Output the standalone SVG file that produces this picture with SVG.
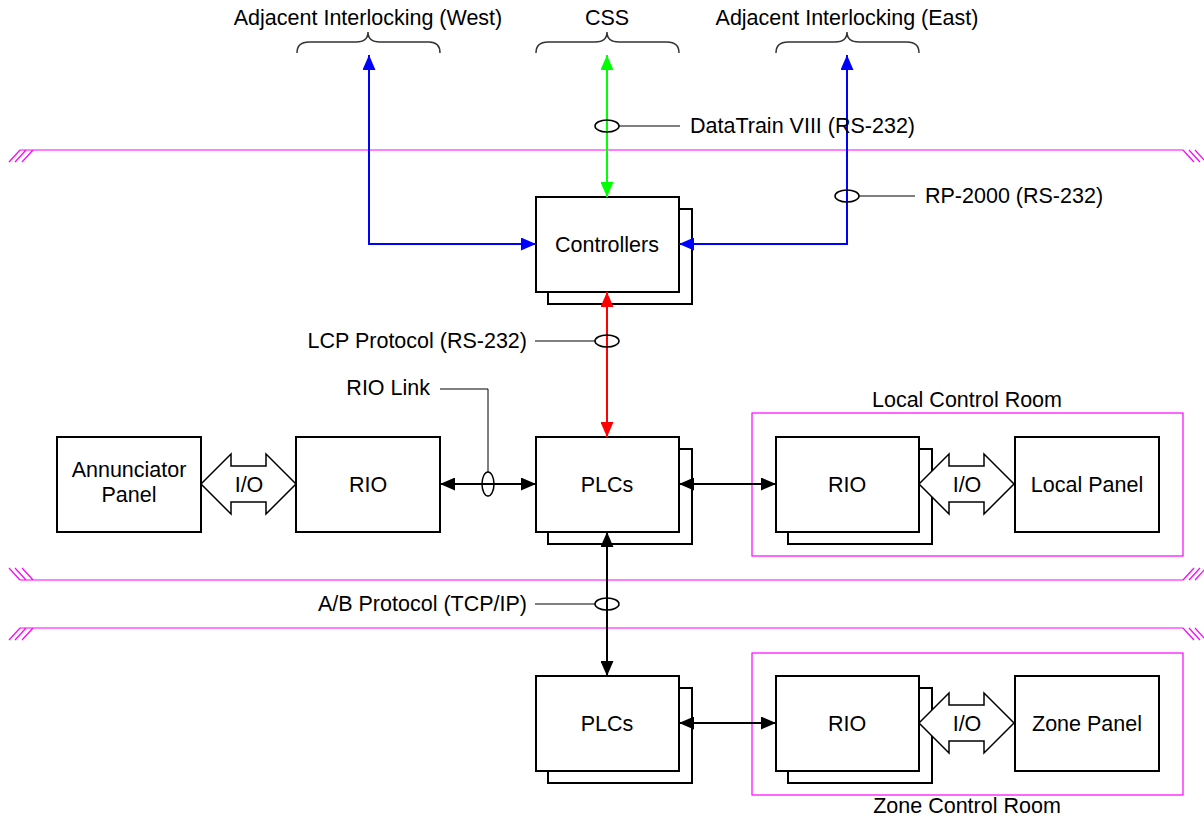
<svg xmlns="http://www.w3.org/2000/svg" width="1204" height="820" viewBox="0 0 1204 820">
<defs>
<style>
text{font-family:"Liberation Sans",Arial,sans-serif;font-size:21.5px;fill:#000}
.box{fill:#fff;stroke:#000;stroke-width:2}
.mag{fill:none;stroke:#FF00FF;stroke-width:1.2}
.lead{fill:none;stroke:#000;stroke-width:1}
.ell{fill:none;stroke:#000;stroke-width:1.5}
.brace{fill:none;stroke:#333;stroke-width:1.5}
.io{fill:#fff;stroke:#000;stroke-width:1.5}
.c{text-anchor:middle}
.e{text-anchor:end}
</style>
<marker id="ak" viewBox="0 0 15 13" refX="15" refY="6.5" markerWidth="15" markerHeight="13" markerUnits="userSpaceOnUse" orient="auto-start-reverse"><path d="M0,0L15,6.5L0,13z" fill="#000"/></marker>
<marker id="ab" viewBox="0 0 15 13" refX="15" refY="6.5" markerWidth="15" markerHeight="13" markerUnits="userSpaceOnUse" orient="auto-start-reverse"><path d="M0,0L15,6.5L0,13z" fill="#0000FF"/></marker>
<marker id="ag" viewBox="0 0 15 13" refX="15" refY="6.5" markerWidth="15" markerHeight="13" markerUnits="userSpaceOnUse" orient="auto-start-reverse"><path d="M0,0L15,6.5L0,13z" fill="#00FF00"/></marker>
<marker id="ar" viewBox="0 0 15 13" refX="15" refY="6.5" markerWidth="15" markerHeight="13" markerUnits="userSpaceOnUse" orient="auto-start-reverse"><path d="M0,0L15,6.5L0,13z" fill="#FF0000"/></marker>
</defs>
<rect width="1204" height="820" fill="#fff"/>

<g id="boundaries">
<path class="mag" d="M20,150H1183M20,150L9,162M26,150L15,162M33,150L22,162M1183,150L1194,162M1189,150L1200,162M1195,150L1206,162"/>
<path class="mag" d="M20,580H1183M20,580L9,568M26,580L15,568M33,580L22,568M1183,580L1194,568M1189,580L1200,568M1195,580L1206,568"/>
<path class="mag" d="M20,628H1183M20,628L9,640M26,628L15,640M33,628L22,640M1183,628L1194,640M1189,628L1200,640M1195,628L1206,640"/>
</g>

<g id="external-labels">
<text class="c" x="368" y="25">Adjacent Interlocking (West)</text>
<path class="brace" d="M297,53Q297,42 309,42L356,42Q368,42 368,32Q368,42 380,42L429,42Q440,42 440,53"/>
<text class="c" x="607" y="25">CSS</text>
<path class="brace" d="M536,53Q536,42 548,42L595,42Q607,42 607,32Q607,42 619,42L667,42Q679,42 679,53"/>
<text class="c" x="847" y="25">Adjacent Interlocking (East)</text>
<path class="brace" d="M776,53Q776,42 788,42L835,42Q847,42 847,32Q847,42 859,42L907,42Q919,42 919,53"/>
</g>

<g id="local-control-room">
<rect class="mag" x="752" y="413" width="431" height="143"/>
<text class="c" x="967" y="407">Local Control Room</text>
</g>
<g id="zone-control-room">
<rect class="mag" x="752" y="653" width="431" height="142"/>
<text class="c" x="967" y="813">Zone Control Room</text>
</g>

<g id="controllers">
<rect class="box" x="548" y="209" width="144" height="95"/>
<rect class="box" x="536" y="197" width="143" height="95"/>
<text class="c" x="607" y="252">Controllers</text>
</g>

<g id="annunciator-panel">
<rect class="box" x="57" y="437" width="144" height="95"/>
<text class="c" x="129" y="477">Annunciator</text>
<text class="c" x="129" y="502">Panel</text>
</g>

<g id="rio-main">
<rect class="box" x="296" y="437" width="144" height="95"/>
<text class="c" x="368" y="492">RIO</text>
</g>

<g id="plcs-main">
<rect class="box" x="548" y="449" width="144" height="95"/>
<rect class="box" x="536" y="437" width="143" height="95"/>
<text class="c" x="607" y="492">PLCs</text>
</g>

<g id="rio-local">
<rect class="box" x="788" y="449" width="144" height="95"/>
<rect class="box" x="776" y="437" width="143" height="95"/>
<text class="c" x="847" y="492">RIO</text>
</g>

<g id="local-panel">
<rect class="box" x="1015" y="437" width="144" height="95"/>
<text class="c" x="1087" y="492">Local Panel</text>
</g>

<g id="plcs-zone">
<rect class="box" x="548" y="688" width="144" height="95"/>
<rect class="box" x="536" y="676" width="143" height="95"/>
<text class="c" x="607" y="731">PLCs</text>
</g>

<g id="rio-zone">
<rect class="box" x="788" y="688" width="144" height="95"/>
<rect class="box" x="776" y="676" width="143" height="95"/>
<text class="c" x="847" y="731">RIO</text>
</g>

<g id="zone-panel">
<rect class="box" x="1015" y="676" width="144" height="95"/>
<text class="c" x="1087" y="731">Zone Panel</text>
</g>

<g id="connectors">
<polyline points="369,55 369,244 536,244" fill="none" stroke="#0000FF" stroke-width="2" marker-start="url(#ab)" marker-end="url(#ab)"/>
<line x1="607" y1="55" x2="607" y2="197" stroke="#00FF00" stroke-width="2" marker-start="url(#ag)" marker-end="url(#ag)"/>
<polyline points="847,55 847,244 679,244" fill="none" stroke="#0000FF" stroke-width="2" marker-start="url(#ab)" marker-end="url(#ab)"/>
<line x1="607" y1="292" x2="607" y2="437" stroke="#FF0000" stroke-width="2" marker-start="url(#ar)" marker-end="url(#ar)"/>
<line x1="440" y1="484" x2="536" y2="484" stroke="#000" stroke-width="2" marker-start="url(#ak)" marker-end="url(#ak)"/>
<line x1="679" y1="484" x2="776" y2="484" stroke="#000" stroke-width="2" marker-start="url(#ak)" marker-end="url(#ak)"/>
<line x1="607" y1="532" x2="607" y2="676" stroke="#000" stroke-width="2" marker-start="url(#ak)" marker-end="url(#ak)"/>
<line x1="679" y1="723" x2="776" y2="723" stroke="#000" stroke-width="2" marker-start="url(#ak)" marker-end="url(#ak)"/>

<ellipse class="ell" cx="607" cy="126" rx="12" ry="6"/>
<path class="lead" d="M619,126H680"/>
<text x="690" y="133">DataTrain VIII (RS-232)</text>

<ellipse class="ell" cx="847" cy="196" rx="12" ry="6"/>
<path class="lead" d="M859,196H915"/>
<text x="925" y="203">RP-2000 (RS-232)</text>

<ellipse class="ell" cx="607" cy="341" rx="12" ry="6"/>
<path class="lead" d="M595,341H535"/>
<text class="e" x="527" y="348">LCP Protocol (RS-232)</text>

<ellipse class="ell" cx="488" cy="484" rx="6" ry="12"/>
<path class="lead" d="M488,472V389H440"/>
<text class="e" x="430" y="395">RIO Link</text>

<ellipse class="ell" cx="607" cy="604" rx="12" ry="6"/>
<path class="lead" d="M595,604H535"/>
<text class="e" x="527" y="611">A/B Protocol (TCP/IP)</text>

<polygon class="io" points="201,484 231,454 231,466 266,466 266,454 296,484 266,514 266,502 231,502 231,514"/>
<text class="c" x="249" y="492">I/O</text>
<polygon class="io" points="919,484 949,454 949,466 984,466 984,454 1014,484 984,514 984,502 949,502 949,514"/>
<text class="c" x="967" y="492">I/O</text>
<polygon class="io" points="919,723 949,693 949,705 984,705 984,693 1014,723 984,753 984,741 949,741 949,753"/>
<text class="c" x="967" y="731">I/O</text>
</g>
</svg>
